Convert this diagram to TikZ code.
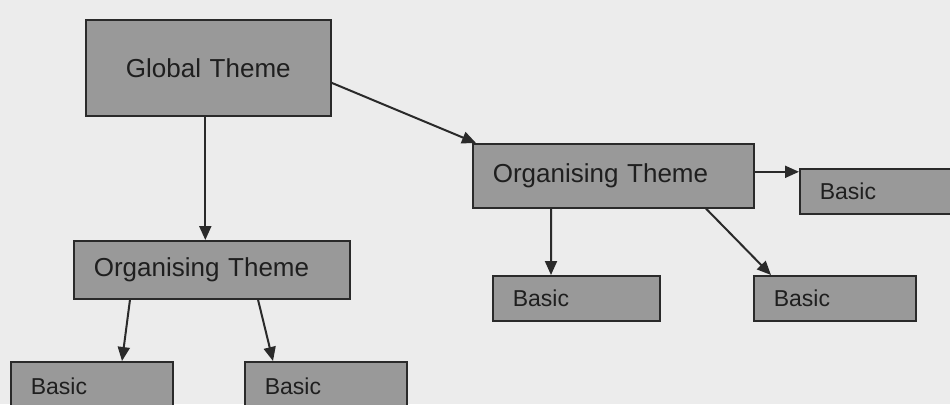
\documentclass[tikz,border=0pt]{standalone}
\usepackage{fontspec}
\setmainfont{Liberation Sans}
\usetikzlibrary{arrows.meta}
\definecolor{pagebg}{HTML}{ECECEC}
\definecolor{boxfill}{HTML}{999999}
\definecolor{boxline}{HTML}{2A2A2A}
\definecolor{txt}{HTML}{1F1F1F}
\tikzset{
  box/.style={draw=boxline, line width=1.6bp, fill=boxfill, anchor=north west,
    inner xsep=20bp, inner ysep=0bp, align=left, text=txt},
  bigtxt/.style={font=\fontsize{26bp}{30bp}\selectfont},
  smalltxt/.style={font=\fontsize{23bp}{27bp}\selectfont},
  arr/.style={draw=boxline, line width=2bp, -{Triangle[length=14bp,width=12bp]}}
}
\begin{document}
\begin{tikzpicture}[x=1bp,y=-1bp]
\fill[pagebg] (0,0) rectangle (950,404);
\useasboundingbox (0,0) rectangle (950,404);
\clip (0,0) rectangle (950,404);
\node[box, bigtxt, align=center, text width=205bp, minimum height=96bp] (g) at (85,19) {Global Theme};
\node[box, bigtxt, text width=236bp, minimum height=58bp] (o1) at (73,240) {Organising Theme};
\node[box, smalltxt, text width=122bp, minimum height=48bp] (b1) at (10,361) {Basic};
\node[box, smalltxt, text width=122bp, minimum height=48bp] (b2) at (244,361) {Basic};
\node[box, bigtxt, text width=241bp, minimum height=64bp] (o2) at (472,143) {Organising Theme};
\node[box, smalltxt, text width=130bp, minimum height=45bp] (b3) at (799,168) {Basic};
\node[box, smalltxt, text width=127bp, minimum height=45bp] (b4) at (492,275) {Basic};
\node[box, smalltxt, text width=122bp, minimum height=45bp] (b5) at (753,275) {Basic};
\draw[arr] ([xshift=-3bp]g.south) -- ([xshift=-3bp]g.south |- o1.north);
\draw[arr] ([yshift=-15bp]g.east) -- ([xshift=4bp]o2.north west);
\draw[arr] ([xshift=57bp]o1.south west) -- ([xshift=112bp]b1.north west);
\draw[arr] ([xshift=185bp]o1.south west) -- ([xshift=29bp]b2.north west);
\draw[arr] ([yshift=4bp]o2.east) -- ([yshift=4bp]o2.east -| b3.west);
\draw[arr] ([xshift=79bp]o2.south west) -- ([xshift=59bp]b4.north west);
\draw[arr] ([xshift=234bp]o2.south west) -- ([xshift=18bp]b5.north west);
\end{tikzpicture}
\end{document}
